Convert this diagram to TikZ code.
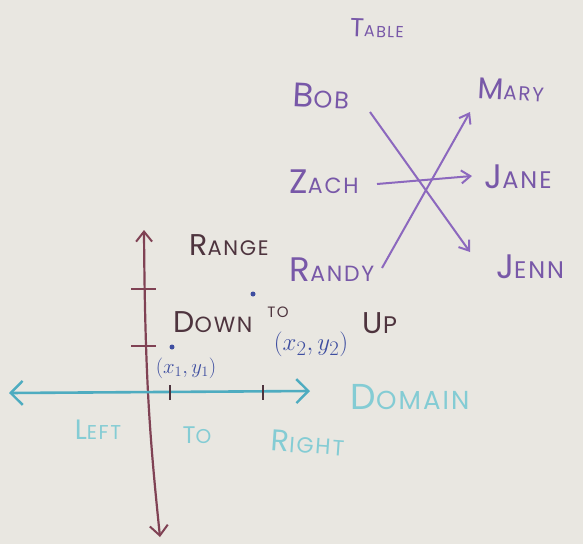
\documentclass[tikz,border=0pt]{standalone}
\usepackage{fontspec}
\setmainfont{Poppins}
\usetikzlibrary{arrows.meta}
\definecolor{board}{RGB}{233,231,225}
\definecolor{pen}{RGB}{120,88,168}
\definecolor{penline}{RGB}{140,104,190}
\definecolor{dark}{RGB}{78,52,62}
\definecolor{maroon}{RGB}{128,66,84}
\definecolor{bluepen}{RGB}{62,78,160}
\definecolor{teal}{RGB}{78,172,192}
\definecolor{lteal}{RGB}{132,204,212}
\newcommand\hw[4]{{\fontsize{#1}{#1}\selectfont #3\fontsize{#2}{#2}\selectfont #4}}
\begin{document}
\begin{tikzpicture}[x=1pt,y=-1pt,
  word/.style={inner sep=0pt,font=\addfontfeature{LetterSpace=8}},
  purpleword/.style={word,text=pen},
  darkword/.style={word,text=dark},
  tealword/.style={word,text=lteal},
  blueword/.style={word,text=bluepen},
  maparrow/.style={draw=penline,line width=2pt,-{Straight Barb[length=9pt,width=13pt,line width=2pt]}},
  haxis/.style={draw=teal,line width=2.6pt,{Straight Barb[length=12pt,width=24pt,line width=2.4pt]}-{Straight Barb[length=12pt,width=24pt,line width=2.4pt]}},
  vaxis/.style={draw=maroon,line width=2.2pt,{Straight Barb[length=10pt,width=16pt,line width=2pt]}-{Straight Barb[length=10pt,width=18pt,line width=2pt]}},
  vtick/.style={draw=maroon,line width=1.8pt},
  htick/.style={draw=dark,line width=1.8pt},
  pointdot/.style={circle,fill=bluepen,inner sep=0pt,minimum size=5pt}]
\fill[board] (0,0) rectangle (583,544);
\useasboundingbox (0,0) rectangle (583,544);

% table
\node[purpleword,rotate=-2] (table) at (377,28) {\hw{26}{16}{T}{ABLE}};
\node[purpleword,rotate=-3] (bob) at (321,96) {\hw{34}{24}{B}{OB}};
\node[purpleword,rotate=-3] (mary) at (511,90) {\hw{30}{20}{M}{ARY}};
\node[purpleword] (zach) at (324,182) {\hw{34}{22}{Z}{ACH}};
\node[purpleword] (jane) at (518,177) {\hw{34}{24}{J}{ANE}};
\node[purpleword] (randy) at (332,270) {\hw{34}{22}{R}{ANDY}};
\node[purpleword] (jenn) at (530,267) {\hw{34}{24}{J}{ENN}};

\coordinate (bobout) at (370,112);
\coordinate (jennin) at (470,252);
\coordinate (randyout) at (382,268);
\coordinate (maryin) at (470,112);
\coordinate (zachout) at (377,184);
\coordinate (janein) at (472,176);
\draw[maparrow] (bobout) -- (jennin);
\draw[maparrow] (randyout) -- (maryin);
\draw[maparrow] (zachout) -- (janein);

% axes
\coordinate (vtop) at (144,230);
\coordinate (vbot) at (160,537);
\draw[vaxis] (vtop) .. controls (145,380) and (150,440) .. (vbot);
\coordinate (hleft) at (9,393);
\coordinate (hright) at (310,391);
\draw[haxis] (hleft) -- (hright);

\coordinate (t1a) at (131,289); \coordinate (t1b) at (156,289);
\coordinate (t2a) at (131,346); \coordinate (t2b) at (156,346);
\draw[vtick] (t1a) -- (t1b);
\draw[vtick] (t2a) -- (t2b);
\coordinate (t3a) at (170,385); \coordinate (t3b) at (170,400);
\coordinate (t4a) at (263,385); \coordinate (t4b) at (263,400);
\draw[htick] (t3a) -- (t3b);
\draw[htick] (t4a) -- (t4b);

% labels
\node[darkword] (range) at (229,245) {\hw{30}{21}{R}{ANGE}};
\node[darkword] (down) at (213,322) {\hw{30}{22}{D}{OWN}};
\node[darkword] (to1) at (278,312) {\fontsize{15}{15}\selectfont TO};
\node[darkword] (up) at (380,323) {\hw{30}{24}{U}{P}};

\node[pointdot] (p2) at (253,294) {};
\node[pointdot] (p1) at (172,347) {};
\node[blueword] (x2y2) at (311,344) {\fontsize{30}{30}\selectfont $(x_2,y_2)$};
\node[blueword] (x1y1) at (186,368) {\fontsize{20}{20}\selectfont $(x_1,y_1)$};

\node[tealword] (domain) at (410,397) {\hw{36}{26}{D}{OMAIN}};
\node[tealword] (left) at (98,430) {\hw{28}{20}{L}{EFT}};
\node[tealword] (to2) at (197,435) {\hw{24}{20}{T}{O}};
\node[tealword,rotate=-4] (right) at (308,443) {\hw{30}{22}{R}{IGHT}};
\end{tikzpicture}
\end{document}
